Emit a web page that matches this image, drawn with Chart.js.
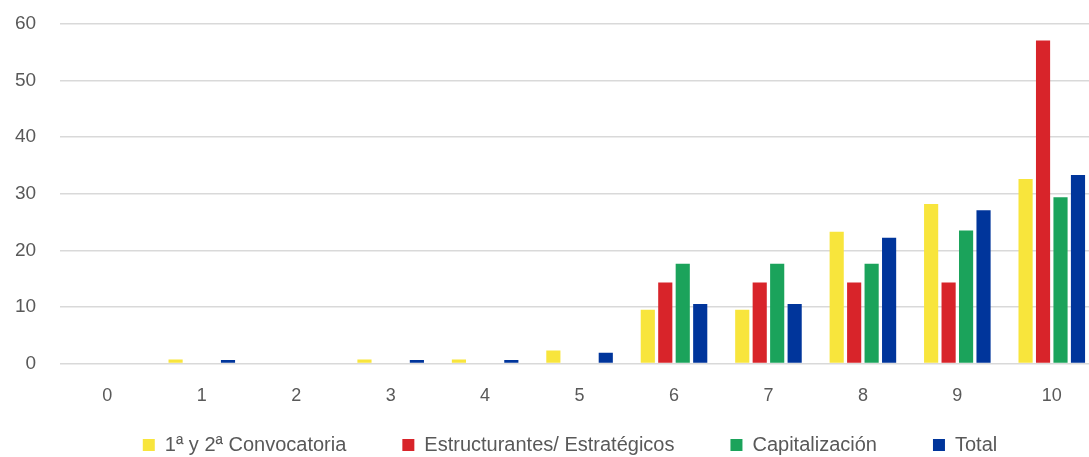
<!DOCTYPE html>
<html>
<head>
<meta charset="utf-8">
<script src="https://cdn.jsdelivr.net/npm/chart.js@4"></script>
<style>
  html, body { margin: 0; padding: 0; background: #fff; overflow: hidden; }
  /* the plot runs a little past the right edge of the window, as in the original */
  #wrap { width: 1099px; height: 457px; }
</style>
</head>
<body>
<div id="wrap"><canvas id="notasChart"></canvas></div>
<script>
const categories = ['0', '1', '2', '3', '4', '5', '6', '7', '8', '9', '10'];
const convocatoria = [0, 0.7, 0, 0.7, 0.7, 2.3, 9.5, 9.5, 23.3, 28.2, 32.6];
const estructurantes = [0, 0, 0, 0, 0, 0, 14.3, 14.3, 14.3, 14.3, 57.1];
const capitalizacion = [0, 0, 0, 0, 0, 0, 17.6, 17.6, 17.6, 23.5, 29.4];
const total = [0, 0.6, 0, 0.6, 0.6, 1.9, 10.5, 10.5, 22.2, 27.1, 33.3];
const yTicks = [0, 10, 20, 30, 40, 50, 60];

Chart.defaults.font.family = "'Liberation Sans', Arial, sans-serif";
Chart.defaults.color = '#595959';

// legend: wide spacing between items but a short box, placed by hand
const legendPlace = {
    id: 'legendPlace',
    beforeInit(chart) {
        const fit = chart.legend.fit;
        chart.legend.fit = function () {
            fit.call(this);
            this.height = 28;
        };
    },
    afterLayout(chart) {
        const lg = chart.legend;
        lg.left += 25;
        lg.right += 25;
        lg.top = 379;
    }
};

const ctxBar = document.getElementById('notasChart').getContext('2d');
const barChart = new Chart(ctxBar, {
    type: 'bar',
    data: {
        labels: categories,
        datasets: [
            { label: '1ª y 2ª Convocatoria', data: convocatoria, backgroundColor: '#F8E53C' },
            { label: 'Estructurantes/ Estratégicos', data: estructurantes, backgroundColor: '#D8242A' },
            { label: 'Capitalización', data: capitalizacion, backgroundColor: '#1BA35B' },
            { label: 'Total', data: total, backgroundColor: '#00359B' }
        ]
    },
    options: {
        responsive: true,
        maintainAspectRatio: false,
        animation: false,
        datasets: {
            bar: { categoryPercentage: 0.74, barPercentage: 0.81 }
        },
        layout: { padding: { left: -9, right: 0, top: 0, bottom: 0 } },
        plugins: {
            tooltip: { enabled: false },
            legend: {
                position: 'bottom',
                labels: {
                    color: '#595959',
                    boxWidth: 12,
                    boxHeight: 12,
                    padding: 56,
                    font: { size: 20 }
                }
            }
        },
        scales: {
            x: {
                grid: { display: false, drawTicks: false },
                border: { display: false },
                ticks: { color: '#595959', padding: 22, font: { size: 18 } }
            },
            y: {
                min: 0,
                max: 60,
                afterBuildTicks: (axis) => { axis.ticks = yTicks.map(v => ({ value: v })); },
                grid: { color: '#d9d9d9', lineWidth: 1.5, drawTicks: false },
                border: { display: false },
                ticks: { color: '#595959', padding: 24, font: { size: 19, lineHeight: 0.01 } }
            }
        }
    },
    plugins: [legendPlace]
});
</script>
</body>
</html>
